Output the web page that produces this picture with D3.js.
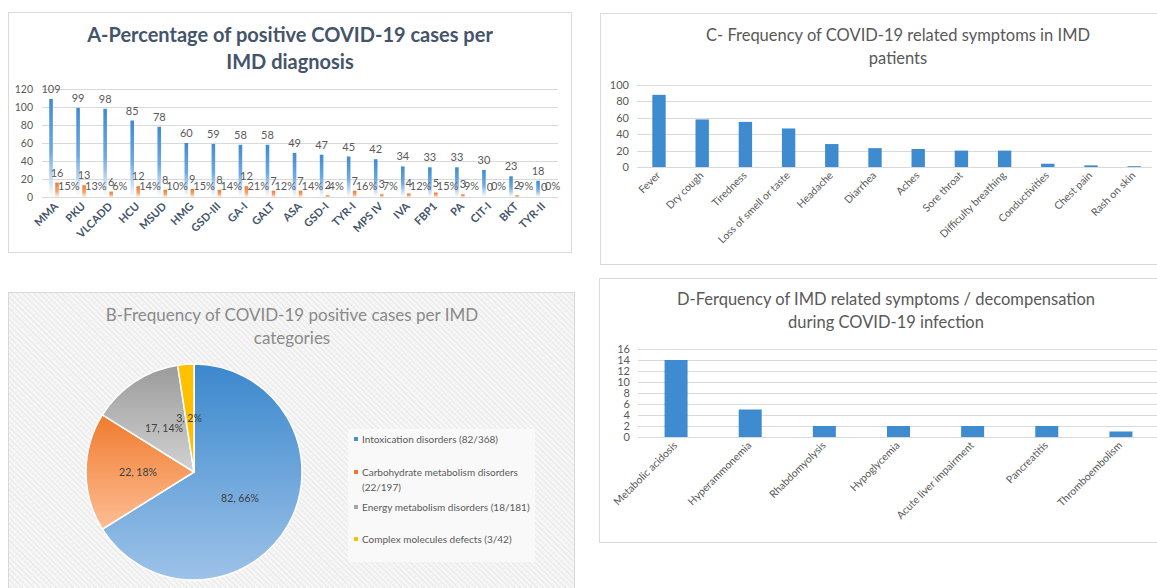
<!DOCTYPE html>
<html>
<head>
<meta charset="utf-8">
<script src="https://cdn.jsdelivr.net/npm/d3@7"></script>
<style>
  body { margin: 0; background: #fff; }
  svg { display: block; font-family: Lato, "Open Sans", sans-serif; }
</style>
</head>
<body>
<svg id="chart" width="1157" height="588"></svg>
<script>
// ---- data ----
var aCats = ["MMA", "PKU", "VLCADD", "HCU", "MSUD", "HMG", "GSD-III", "GA-I", "GALT", "ASA",
             "GSD-I", "TYR-I", "MPS IV", "IVA", "FBP1", "PA", "CIT-I", "BKT", "TYR-II"];
var aTotal = [109, 99, 98, 85, 78, 60, 59, 58, 58, 49, 47, 45, 42, 34, 33, 33, 30, 23, 18];
var aPositive = [16, 13, 6, 12, 8, 9, 8, 12, 7, 7, 2, 7, 3, 4, 5, 3, 0, 2, 0];
var aPct = ["15%", "13%", "6%", "14%", "10%", "15%", "14%", "21%", "12%", "14%",
            "4%", "16%", "7%", "12%", "15%", "9%", "0%", "9%", "0%"];
var aTicks = [0, 20, 40, 60, 80, 100, 120];

var bCats = ["Intoxication disorders (82/368)", "Carbohydrate metabolism disorders (22/197)",
             "Energy metabolism disorders (18/181)", "Complex molecules defects (3/42)"];
var bValues = [82, 22, 17, 3];
var bLabels = ["82, 66%", "22, 18%", "17, 14%", "3, 2%"];

var cCats = ["Fever", "Dry cough", "Tiredness", "Loss of smell or taste", "Headache", "Diarrhea",
             "Aches", "Sore throat", "Difficulty breathing", "Conductivities", "Chest pain", "Rash on skin"];
var cValues = [88, 58, 55, 47, 28, 23, 22, 20, 20, 4, 2, 1];
var cTicks = [0, 20, 40, 60, 80, 100];

var dCats = ["Metabolic acidosis", "Hyperammonemia", "Rhabdomyolysis", "Hypoglycemia",
             "Acute liver impairment", "Pancreatitis", "Thromboembolism"];
var dValues = [14, 5, 2, 2, 2, 2, 1];
var dTicks = [0, 2, 4, 6, 8, 10, 12, 14, 16];

var svg = d3.select("#chart");
var defs = svg.append("defs");

// gradients
function vGrad(id, stops) {
  var g = defs.append("linearGradient").attr("id", id)
    .attr("x1", 0).attr("y1", 0).attr("x2", 0).attr("y2", 1);
  stops.forEach(function (s) {
    g.append("stop").attr("offset", s[0]).attr("stop-color", s[1]);
  });
}
vGrad("gBlueA", [[0, "#3F8BD2"], [0.55, "#6FAAE0"], [1, "#FFFFFF"]]);
vGrad("gOrangeA", [[0, "#F07A30"], [0.6, "#F6A26E"], [1, "#FFF2EA"]]);
vGrad("gBlue", [[0, "#3B88CD"], [1, "#9DC2E8"]]);
vGrad("gOrange", [[0, "#F07B2E"], [1, "#FDBE94"]]);
vGrad("gGray", [[0, "#9B9B9B"], [1, "#D2D2D2"]]);
vGrad("gYellow", [[0, "#FFC000"], [1, "#FFC000"]]);

// hatch for panel B
var pat = defs.append("pattern").attr("id", "hatch")
  .attr("patternUnits", "userSpaceOnUse").attr("width", 4).attr("height", 4)
  .attr("patternTransform", "rotate(-45)");
pat.append("rect").attr("width", 4).attr("height", 4).attr("fill", "#F6F6F6");
pat.append("line").attr("x1", 0).attr("y1", 0).attr("x2", 0).attr("y2", 4)
  .attr("stroke", "#E2E2E2").attr("stroke-width", 1.5);

// panel frames
svg.append("rect").attr("x", 8.5).attr("y", 12.5).attr("width", 563).attr("height", 240)
  .attr("fill", "#fff").attr("stroke", "#D9D9D9");
svg.append("rect").attr("x", 600.5).attr("y", 13.5).attr("width", 570).attr("height", 251)
  .attr("fill", "#fff").attr("stroke", "#D9D9D9");
svg.append("rect").attr("x", 8.5).attr("y", 292.5).attr("width", 566).attr("height", 310)
  .attr("fill", "url(#hatch)").attr("stroke", "#D9D9D9");
svg.append("rect").attr("x", 599.5).attr("y", 278.5).attr("width", 570).attr("height", 264)
  .attr("fill", "#fff").attr("stroke", "#D9D9D9");

function title(lines, cx, y0, lh, size, color, weight) {
  var t = svg.append("text").attr("text-anchor", "middle")
    .attr("font-size", size).attr("fill", color).attr("font-weight", weight);
  lines.forEach(function (l, i) {
    t.append("tspan").attr("x", cx).attr("y", y0 + i * lh).text(l);
  });
}

function grid(g, y, ticks, x0, x1, tx, size) {
  g.selectAll(".gl").data(ticks).enter().append("line")
    .attr("x1", x0).attr("x2", x1)
    .attr("y1", function (d) { return Math.round(y(d)) + 0.5; })
    .attr("y2", function (d) { return Math.round(y(d)) + 0.5; })
    .attr("stroke", "#D9D9D9");
  g.selectAll(".tl").data(ticks).enter().append("text")
    .attr("x", tx).attr("y", function (d) { return y(d) + 4; })
    .attr("text-anchor", "end").attr("font-size", size).attr("fill", "#595959")
    .text(function (d) { return d; });
}

// ---- A ----
title(["A-Percentage of positive COVID-19 cases per", "IMD diagnosis"], 290, 42, 27, 20, "#44546A", "bold");
var gA = svg.append("g");
var xA = d3.scaleBand().domain(aCats).range([40.5, 554.6]);
var yA = d3.scaleLinear().domain([0, 120]).range([197, 89]);
grid(gA, yA, aTicks, 42, 558, 33, 10.5);
var bwA = xA.bandwidth();
function blueX(c) { return xA(c) + bwA / 2 - 3; }
function orangeX(c) { return xA(c) + bwA / 2 + 3; }
gA.selectAll(".ba").data(aCats).enter().append("rect")
  .attr("x", function (c) { return blueX(c) - 1.8; }).attr("width", 3.6)
  .attr("y", function (c, i) { return yA(aTotal[i]); })
  .attr("height", function (c, i) { return yA(0) - yA(aTotal[i]); })
  .attr("fill", "url(#gBlueA)");
gA.selectAll(".oa").data(aCats).enter().append("rect")
  .attr("x", function (c) { return orangeX(c) - 1.8; }).attr("width", 3.6)
  .attr("y", function (c, i) { return yA(aPositive[i]); })
  .attr("height", function (c, i) { return yA(0) - yA(aPositive[i]); })
  .attr("fill", "url(#gOrangeA)");
gA.selectAll(".lba").data(aCats).enter().append("text")
  .attr("x", blueX).attr("y", function (c, i) { return yA(aTotal[i]) - 6; })
  .attr("text-anchor", "middle").attr("font-size", 11).attr("fill", "#595959")
  .text(function (c, i) { return aTotal[i]; });
gA.selectAll(".loa").data(aCats).enter().append("text")
  .attr("x", orangeX).attr("y", function (c, i) { return yA(aPositive[i]) - 6; })
  .attr("text-anchor", "middle").attr("font-size", 11).attr("fill", "#595959")
  .text(function (c, i) { return aPositive[i]; });
gA.selectAll(".lpa").data(aCats).enter().append("text")
  .attr("x", function (c) { return orangeX(c) + 1; }).attr("y", 190)
  .attr("text-anchor", "start").attr("font-size", 11).attr("fill", "#595959")
  .text(function (c, i) { return aPct[i]; });
gA.selectAll(".xa").data(aCats).enter().append("text")
  .attr("transform", function (c) { return "translate(" + (xA(c) + bwA / 2 + 5) + ",207) rotate(-45)"; })
  .attr("text-anchor", "end").attr("font-size", 11).attr("font-weight", "bold")
  .attr("fill", "#44546A").text(function (c) { return c; });

// ---- C ----
title(["C- Frequency of COVID-19 related symptoms in IMD", "patients"], 898, 41, 23, 16.5, "#595959", "normal");
var gC = svg.append("g");
var xC = d3.scaleBand().domain(cCats).range([637.4, 1155.8]);
var yC = d3.scaleLinear().domain([0, 100]).range([167, 85]);
grid(gC, yC, cTicks, 637, 1152, 629, 11);
var bwC = xC.bandwidth();
gC.selectAll(".bc").data(cCats).enter().append("rect")
  .attr("x", function (c) { return xC(c) + bwC * 0.345; }).attr("width", bwC * 0.31)
  .attr("y", function (c, i) { return yC(cValues[i]); })
  .attr("height", function (c, i) { return yC(0) - yC(cValues[i]); })
  .attr("fill", "#3F8BD0");
gC.selectAll(".xc").data(cCats).enter().append("text")
  .attr("transform", function (c) { return "translate(" + (xC(c) + bwC / 2 + 2) + ",176) rotate(-45)"; })
  .attr("text-anchor", "end").attr("font-size", 10.5).attr("fill", "#595959")
  .text(function (c) { return c; });

// ---- B ----
title(["B-Frequency of COVID-19 positive cases per IMD", "categories"], 292, 321, 23, 17, "#8A8A8A", "normal");
var gB = svg.append("g").attr("transform", "translate(194,472)");
var pie = d3.pie().sort(null)(bValues);
var arc = d3.arc().innerRadius(0).outerRadius(108);
var bFills = ["url(#gBlue)", "url(#gOrange)", "url(#gGray)", "url(#gYellow)"];
var bKey = ["#4A8FD2", "#F07B2E", "#A5A5A5", "#FFC000"];
gB.selectAll(".sl").data(pie).enter().append("path")
  .attr("d", arc).attr("fill", function (d, i) { return bFills[i]; })
  .attr("stroke", "#fff").attr("stroke-width", 1.5);
var labPos = [[46, 26], [-56, 0], [-30, -44], [-5, -54]];
gB.selectAll(".pl").data(pie).enter().append("text")
  .attr("x", function (d, i) { return labPos[i][0]; })
  .attr("y", function (d, i) { return labPos[i][1] + 4; })
  .attr("text-anchor", "middle").attr("font-size", 10.5).attr("fill", "#404040")
  .text(function (d, i) { return bLabels[i]; });

svg.append("rect").attr("x", 348).attr("y", 429).attr("width", 187).attr("height", 133)
  .attr("fill", "#FAFAFA").attr("opacity", 0.9);
var legRows = [[439], [472, 487], [507], [539]];
var legText = [["Intoxication disorders (82/368)"], ["Carbohydrate metabolism disorders", "(22/197)"],
               ["Energy metabolism disorders (18/181)"], ["Complex molecules defects (3/42)"]];
legRows.forEach(function (ys, i) {
  svg.append("rect").attr("x", 354).attr("y", ys[0] - 2).attr("width", 4).attr("height", 4)
    .attr("fill", bKey[i]);
  legText[i].forEach(function (t, j) {
    svg.append("text").attr("x", 362).attr("y", ys[j] + 3.5)
      .attr("font-size", 10).attr("fill", "#595959").text(t);
  });
});

// ---- D ----
title(["D-Ferquency of IMD related symptoms / decompensation", "during COVID-19 infection"], 886, 305, 23, 16.5, "#595959", "normal");
var gD = svg.append("g");
var xD = d3.scaleBand().domain(dCats).range([639, 1158]);
var yD = d3.scaleLinear().domain([0, 16]).range([437, 349]);
grid(gD, yD, dTicks, 638, 1157, 630, 11);
var bwD = xD.bandwidth();
gD.selectAll(".bd").data(dCats).enter().append("rect")
  .attr("x", function (c) { return xD(c) + bwD * 0.345; }).attr("width", bwD * 0.31)
  .attr("y", function (c, i) { return yD(dValues[i]); })
  .attr("height", function (c, i) { return yD(0) - yD(dValues[i]); })
  .attr("fill", "#3F8BD0");
gD.selectAll(".xd").data(dCats).enter().append("text")
  .attr("transform", function (c) { return "translate(" + (xD(c) + bwD / 2 + 2) + ",446) rotate(-45)"; })
  .attr("text-anchor", "end").attr("font-size", 10.5).attr("fill", "#595959")
  .text(function (c) { return c; });
</script>
</body>
</html>
